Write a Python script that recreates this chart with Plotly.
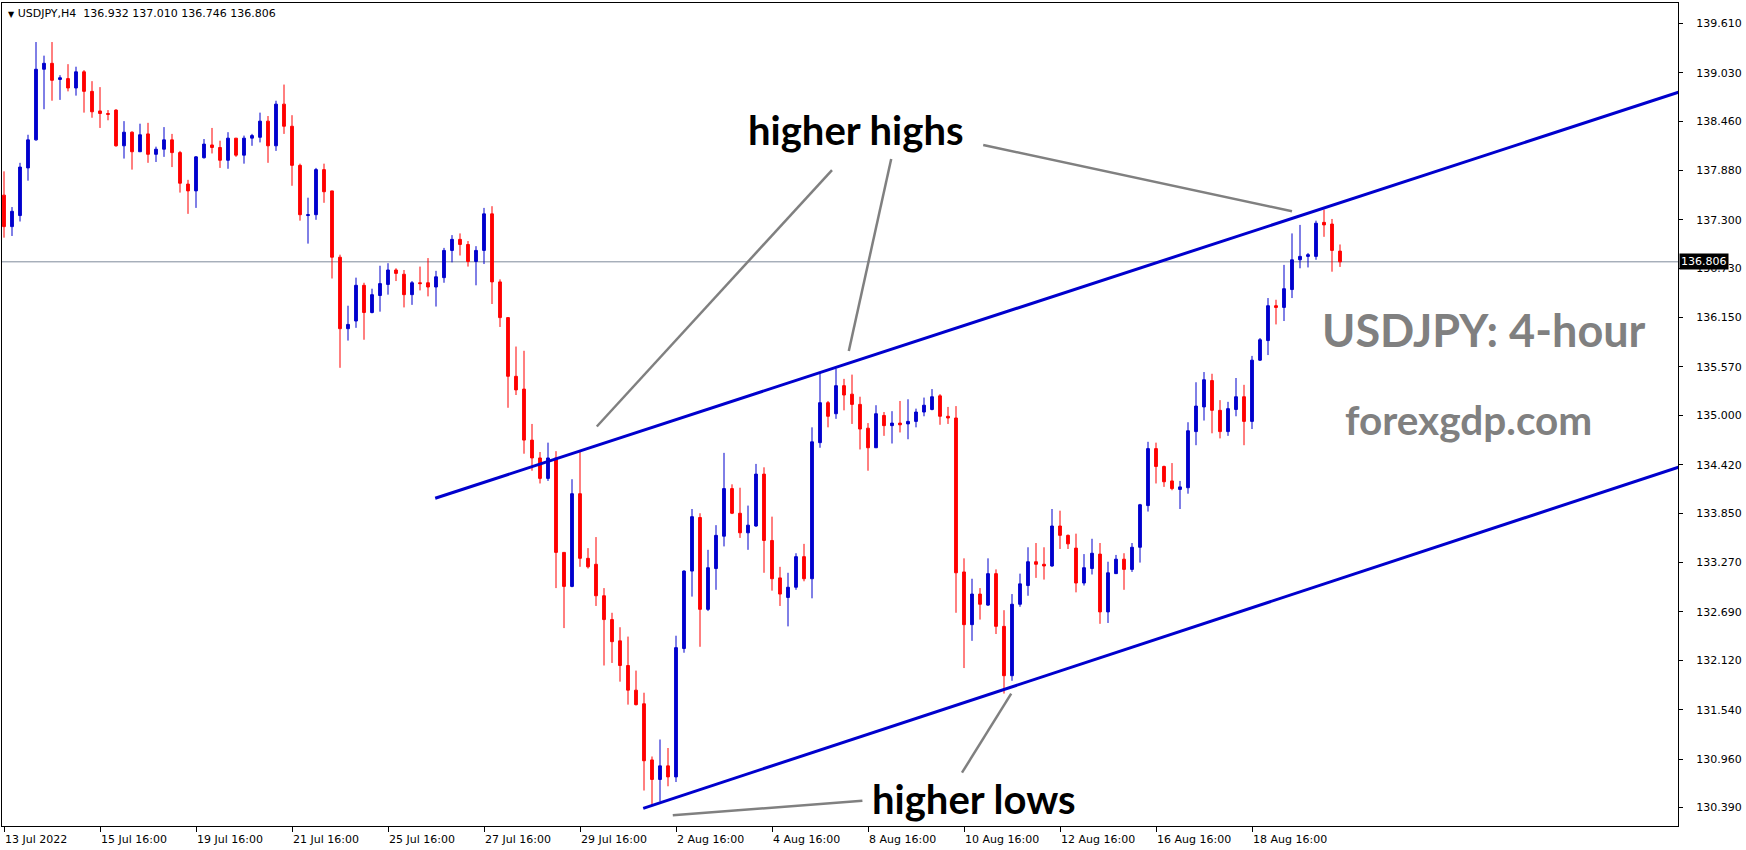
import plotly.graph_objects as go

# ---------------- data (H4 bars, USDJPY) ----------------
opens = [137.59, 137.22, 137.35, 137.91, 138.24, 139.07, 139.14, 138.95, 138.96, 138.85,
         139.04, 138.81, 138.58, 138.55, 138.59, 138.17, 138.33, 138.10, 138.31, 138.07,
         138.13, 138.24, 138.09, 137.72, 137.64, 138.03, 138.18, 138.15, 138.00, 138.26,
         138.06, 138.26, 138.27, 138.46, 138.17, 138.66, 138.40, 137.94, 137.35, 137.36,
         137.89, 137.64, 136.86, 136.02, 136.11, 136.53, 136.21, 136.41, 136.54, 136.71,
         136.66, 136.42, 136.56, 136.56, 136.51, 136.62, 136.94, 137.07, 137.01, 136.81,
         136.94, 137.37, 136.57, 136.15, 135.46, 135.31, 134.71, 134.50, 134.26, 134.50,
         133.39, 132.99, 134.08, 133.32, 133.25, 132.88, 132.60, 132.35, 132.06, 131.77,
         131.61, 130.95, 130.72, 130.88, 130.75, 132.26, 133.17, 133.80, 132.72, 133.20,
         133.58, 134.14, 133.85, 133.62, 133.70, 134.31, 133.53, 133.09, 132.86, 132.98,
         133.34, 133.08, 134.68, 135.15, 135.02, 135.35, 135.25, 135.13, 134.85, 134.62,
         135.00, 134.88, 134.91, 134.90, 134.93, 135.04, 135.07, 135.23, 134.99, 134.97,
         133.16, 132.54, 132.90, 132.77, 133.14, 132.52, 131.94, 132.78, 133.00, 133.28,
         133.25, 133.23, 133.70, 133.59, 133.44, 133.03, 133.20, 133.37, 132.69, 133.14,
         133.31, 133.19, 133.45, 133.94, 134.61, 134.40, 134.23, 134.13, 134.15, 134.81,
         135.10, 135.41, 135.06, 134.81, 135.07, 135.22, 134.93, 135.65, 135.88, 136.29,
         136.27, 136.48, 136.83, 136.87, 136.87, 137.27, 137.25, 136.932]
highs = [137.87, 137.45, 137.97, 138.30, 139.39, 139.23, 139.39, 139.00, 139.13, 139.10,
         139.06, 138.93, 138.86, 138.59, 138.60, 138.46, 138.34, 138.43, 138.44, 138.16,
         138.39, 138.31, 138.11, 137.77, 138.05, 138.25, 138.38, 138.23, 138.33, 138.26,
         138.29, 138.31, 138.56, 138.52, 138.70, 138.89, 138.53, 137.96, 137.56, 137.91,
         137.96, 137.64, 136.89, 136.29, 136.62, 136.56, 136.49, 136.76, 136.79, 136.73,
         136.71, 136.58, 136.75, 136.85, 136.70, 136.97, 137.12, 137.14, 137.05, 136.99,
         137.44, 137.46, 136.60, 136.15, 135.81, 135.76, 134.90, 134.57, 134.68, 134.58,
         133.39, 134.25, 134.57, 133.44, 133.57, 132.97, 132.68, 132.51, 132.40, 132.00,
         131.74, 130.99, 131.19, 131.09, 132.41, 133.18, 133.90, 133.85, 133.42, 133.71,
         134.56, 134.19, 134.15, 133.94, 134.43, 134.39, 133.81, 133.22, 133.15, 133.38,
         133.49, 134.86, 135.50, 135.17, 135.55, 135.43, 135.48, 135.22, 134.91, 135.12,
         135.04, 135.05, 135.17, 135.19, 135.08, 135.21, 135.31, 135.25, 135.10, 135.11,
         133.32, 133.08, 132.97, 133.32, 133.19, 132.71, 132.90, 133.14, 133.45, 133.50,
         133.45, 133.90, 133.88, 133.60, 133.61, 133.37, 133.55, 133.50, 133.28, 133.36,
         133.38, 133.50, 133.96, 134.69, 134.68, 134.41, 134.44, 134.23, 134.92, 135.39,
         135.51, 135.49, 135.18, 135.16, 135.44, 135.36, 135.70, 135.91, 136.38, 136.36,
         136.77, 137.14, 137.24, 136.91, 137.29, 137.42, 137.31, 137.010]
lows = [137.09, 137.11, 137.28, 137.76, 138.23, 138.60, 138.70, 138.71, 138.81, 138.76,
        138.56, 138.50, 138.38, 138.47, 138.16, 138.02, 137.89, 138.10, 137.97, 137.98,
        138.04, 137.92, 137.62, 137.37, 137.44, 138.02, 138.08, 137.91, 137.90, 138.04,
        137.96, 138.17, 138.21, 137.97, 138.11, 138.31, 137.70, 137.29, 137.02, 137.30,
        137.50, 136.61, 135.56, 135.88, 136.03, 135.89, 136.20, 136.22, 136.42, 136.58,
        136.27, 136.30, 136.47, 136.40, 136.28, 136.56, 136.80, 136.88, 136.75, 136.53,
        136.78, 136.31, 136.04, 135.09, 135.24, 134.55, 134.35, 134.20, 134.23, 132.97,
        132.50, 132.98, 133.22, 133.20, 132.76, 132.06, 132.09, 131.87, 131.60, 131.59,
        130.59, 130.42, 130.46, 130.64, 130.69, 132.21, 132.87, 132.28, 132.70, 132.95,
        133.46, 133.84, 133.56, 133.42, 133.69, 133.15, 132.94, 132.76, 132.52, 132.95,
        133.05, 132.85, 134.62, 134.86, 134.96, 135.06, 134.90, 134.60, 134.35, 134.62,
        134.76, 134.67, 134.80, 134.72, 134.86, 134.99, 135.06, 134.89, 134.90, 132.68,
        132.03, 132.35, 132.60, 132.76, 132.43, 131.73, 131.88, 132.75, 132.88, 133.09,
        133.07, 133.22, 133.43, 133.43, 132.92, 133.00, 133.13, 132.55, 132.56, 133.14,
        132.95, 133.16, 133.27, 133.87, 134.20, 134.16, 134.12, 133.90, 134.08, 134.65,
        134.94, 134.79, 134.73, 134.76, 134.99, 134.65, 134.84, 135.64, 135.71, 136.07,
        136.11, 136.38, 136.73, 136.74, 136.83, 137.10, 136.69, 136.746]
closes = [137.22, 137.40, 137.92, 138.24, 139.07, 139.14, 138.94, 138.97, 138.85, 139.04,
          138.81, 138.57, 138.55, 138.54, 138.17, 138.33, 138.10, 138.30, 138.07, 138.13,
          138.24, 138.09, 137.73, 137.64, 138.04, 138.19, 138.15, 138.00, 138.26, 138.06,
          138.26, 138.29, 138.46, 138.17, 138.66, 138.40, 137.94, 137.36, 137.36, 137.89,
          137.63, 136.86, 136.02, 136.07, 136.53, 136.21, 136.42, 136.55, 136.71, 136.67,
          136.42, 136.56, 136.55, 136.51, 136.63, 136.94, 137.07, 137.01, 136.81, 136.94,
          137.37, 136.57, 136.15, 135.46, 135.30, 134.71, 134.50, 134.26, 134.50, 133.39,
          132.99, 134.08, 133.32, 133.22, 132.88, 132.60, 132.34, 132.06, 131.77, 131.60,
          130.94, 130.72, 130.88, 130.75, 132.27, 133.17, 133.81, 132.72, 133.21, 133.59,
          134.14, 133.85, 133.62, 133.71, 134.31, 133.53, 133.08, 132.90, 132.98, 133.34,
          133.08, 134.69, 135.15, 134.99, 135.35, 135.24, 135.13, 134.84, 134.62, 135.02,
          134.88, 134.91, 134.89, 134.93, 135.04, 135.12, 135.22, 134.99, 134.97, 133.15,
          132.54, 132.90, 132.78, 133.14, 132.52, 131.94, 132.78, 133.02, 133.28, 133.25,
          133.23, 133.70, 133.59, 133.49, 133.03, 133.21, 133.38, 132.69, 133.15, 133.31,
          133.19, 133.45, 133.95, 134.61, 134.40, 134.22, 134.14, 134.16, 134.82, 135.11,
          135.42, 135.06, 134.81, 135.08, 135.22, 134.93, 135.65, 135.89, 136.29, 136.27,
          136.49, 136.83, 136.87, 136.89, 137.26, 137.24, 136.94, 136.806]

bar_index = list(range(len(opens)))

# time-axis labels (every 12 bars)
x_tick_bars = [0, 12, 24, 36, 48, 60, 72, 84, 96, 108, 120, 132, 144, 156]
x_tick_labels = ["13 Jul 2022", "15 Jul 16:00", "19 Jul 16:00", "21 Jul 16:00",
                 "25 Jul 16:00", "27 Jul 16:00", "29 Jul 16:00", "2 Aug 16:00",
                 "4 Aug 16:00", "8 Aug 16:00", "10 Aug 16:00", "12 Aug 16:00",
                 "16 Aug 16:00", "18 Aug 16:00"]

# price-axis labels
y_tick_values = [130.39, 130.96, 131.54, 132.12, 132.69, 133.27, 133.85, 134.42, 135.00,
                 135.57, 136.15, 136.73, 137.30, 137.88, 138.46, 139.03, 139.61]
y_tick_labels = ["%.3f" % v for v in y_tick_values]

last_price = 136.806
header = "USDJPY,H4\u00a0\u00a0136.932 137.010 136.746 136.806"

# channel trend lines (bar index, price)
upper_channel = [(53.9, 134.026), (215.0, 138.975)]
lower_channel = [(79.9, 130.381), (215.0, 134.568)]

# gray leader lines of the labels (bar index, price)
leaders = [
    [(74.1, 134.87), (103.5, 137.885)],
    [(105.6, 135.757), (110.9, 138.015)],
    [(122.4, 138.18), (161.0, 137.40)],
    [(83.6, 130.30), (107.3, 130.47)],
    [(125.9, 131.73), (119.75, 130.80)],
]

# ---------------- figure ----------------
BLUE = "#0000CD"
RED = "#FF0000"

fig = go.Figure()
fig.add_trace(go.Candlestick(
    x=bar_index, open=opens, high=highs, low=lows, close=closes,
    increasing=dict(line=dict(color=BLUE, width=1), fillcolor=BLUE),
    decreasing=dict(line=dict(color=RED, width=1), fillcolor=RED),
    whiskerwidth=0, hoverinfo="skip", showlegend=False,
))

shapes = []
shapes.append(dict(type="line", xref="paper", yref="y", x0=0, x1=1,
                   y0=last_price, y1=last_price,
                   line=dict(color="#7F8B9B", width=1), layer="below"))
for (xa, ya), (xb, yb) in [upper_channel, lower_channel]:
    shapes.append(dict(type="line", xref="x", yref="y", x0=xa, y0=ya, x1=xb, y1=yb,
                       line=dict(color=BLUE, width=3)))
for (xa, ya), (xb, yb) in leaders:
    shapes.append(dict(type="line", xref="x", yref="y", x0=xa, y0=ya, x1=xb, y1=yb,
                       line=dict(color="#808080", width=2.5)))

annotations = [
    dict(xref="paper", yref="paper", x=0, y=1, xanchor="left", yanchor="top",
         xshift=4, yshift=-2, showarrow=False,
         text="<span style='font-size:8px'>\u25BC</span> " + header,
         font=dict(family="DejaVu Sans", size=11, color="black")),
    dict(xref="paper", yref="y", x=1, y=last_price, xanchor="left", yanchor="middle",
         xshift=1, showarrow=False, text="136.806", bgcolor="black", borderpad=1,
         font=dict(family="DejaVu Sans", size=11, color="white")),
    dict(xref="x", yref="y", x=106.55, y=138.36, showarrow=False, text="higher highs",
         font=dict(family="Lato", size=40, color="black", weight="bold")),
    dict(xref="x", yref="y", x=121.3, y=130.49, showarrow=False, text="higher lows",
         font=dict(family="Lato", size=40, color="black", weight="bold")),
    dict(xref="x", yref="y", x=185.0, y=136.01, showarrow=False, text="USDJPY: 4-hour",
         font=dict(family="Lato", size=45, color="#808080", weight="bold")),
    dict(xref="x", yref="y", x=183.0, y=134.95, showarrow=False, text="forexgdp.com",
         font=dict(family="Lato", size=40.5, color="#808080", weight="bold")),
]

fig.update_layout(
    width=1746, height=850,
    margin=dict(l=2, r=68, t=3, b=24, pad=0, autoexpand=False),
    paper_bgcolor="white", plot_bgcolor="white",
    boxgap=0.5,
    shapes=shapes, annotations=annotations,
    showlegend=False,
    xaxis=dict(range=[-0.25, 209.25], rangeslider=dict(visible=False),
               automargin=False,
               showgrid=False, zeroline=False,
               showline=True, linecolor="black", linewidth=1, mirror=True,
               tickmode="array", tickvals=x_tick_bars, ticktext=x_tick_labels,
               ticks="outside", ticklen=5, tickcolor="black",
               ticklabelposition="outside right", ticklabelstandoff=3,
               tickfont=dict(family="DejaVu Sans", size=11, color="black")),
    yaxis=dict(range=[130.173, 139.849], side="right", automargin=False,
               showgrid=False, zeroline=False,
               showline=True, linecolor="black", linewidth=1, mirror=True,
               tickmode="array", tickvals=y_tick_values, ticktext=y_tick_labels,
               ticks="outside", ticklen=4, tickcolor="black",
               ticklabelstandoff=11,
               tickfont=dict(family="DejaVu Sans", size=11, color="black")),
)

fig.write_html("out.html",
               config={"displayModeBar": False},
               post_script="document.body.style.margin='0';document.body.style.padding='0';")
